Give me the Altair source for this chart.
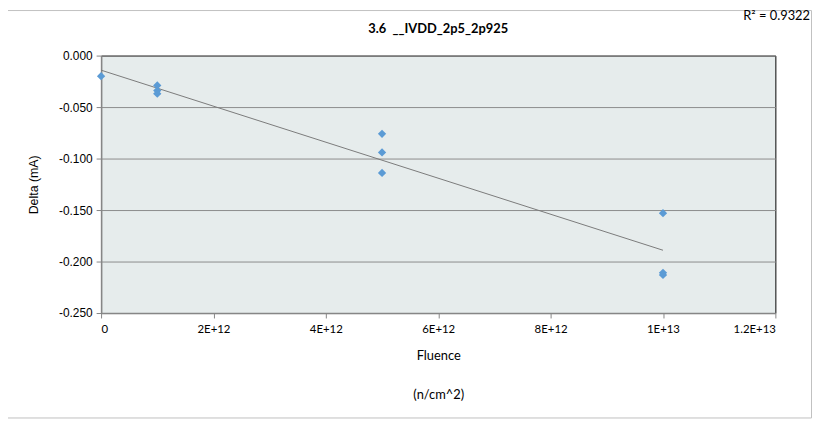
import altair as alt
import pandas as pd

fluence = [0, 1e12, 1e12, 1e12, 5e12, 5e12, 5e12, 1e13, 1e13, 1e13]
delta = [-0.020, -0.029, -0.034, -0.037, -0.076, -0.094, -0.114, -0.153, -0.211, -0.213]
x_ticks = [0, 2e12, 4e12, 6e12, 8e12, 1e13, 1.2e13]
y_ticks = [0, -0.05, -0.1, -0.15, -0.2, -0.25]
chart_title = "3.6\u00a0\u00a0__IVDD_2p5_2p925"
r2_label = "R\u00b2 = 0.9322"
x_title = ["Fluence", "(n/cm^2)"]
y_title = "Delta (mA)"

df = pd.DataFrame({"Fluence": fluence, "Delta": delta})

FONT = "Lato"
SANS = "Liberation Sans"
xs = alt.Scale(domain=[0, 1.2e13], nice=False, zero=False)
ys = alt.Scale(domain=[-0.25, 0], nice=False)

x_axis = alt.Axis(
    values=x_ticks,
    labelExpr="datum.value == 0 ? '0' : replace(format(datum.value, '.2~e'), 'e+', 'E+')",
    title=x_title,
    grid=False,
    domainColor="#868686",
    domainWidth=1.5,
    tickColor="#868686",
    tickSize=5,
    labelPadding=6,
    labelFont=FONT,
    labelFontSize=11.5,
    titleFont=FONT,
    titleFontSize=13,
    titlePadding=14,
    titleLineHeight=40,
)
y_axis = alt.Axis(
    values=y_ticks,
    labelExpr="replace(format(datum.value, '.3f'), '\u2212', '-')",
    title=y_title,
    grid=True,
    gridColor="#8c8c8c",
    gridWidth=1,
    domainColor="#868686",
    domainWidth=1.5,
    tickColor="#868686",
    tickSize=5,
    labelPadding=4,
    labelFont=SANS,
    labelFontSize=12,
    titleFont=SANS,
    titleFontSize=12.5,
    titlePadding=18,
)

base = alt.Chart(df)

trend = base.transform_regression("Fluence", "Delta").mark_line(
    color="#7a7a7a", strokeWidth=1
).encode(
    x=alt.X("Fluence:Q", scale=xs, axis=x_axis),
    y=alt.Y("Delta:Q", scale=ys, axis=y_axis),
)

points = base.mark_point(
    shape="diamond", filled=True, size=70, color="#5B9BD5", opacity=1
).encode(
    x=alt.X("Fluence:Q", scale=xs),
    y=alt.Y("Delta:Q", scale=ys),
)

r2 = alt.Chart(pd.DataFrame({"t": [r2_label]})).mark_text(
    align="right", baseline="middle", fontSize=13, font=FONT, color="#000"
).encode(x=alt.value(716), y=alt.value(-40), text="t:N")

title_mark = alt.Chart(pd.DataFrame({"t": [chart_title]})).mark_text(
    align="center", baseline="middle", fontSize=13, font=FONT, fontWeight="bold", color="#000"
).encode(x=alt.value(340.5), y=alt.value(-27), text="t:N")

border = alt.Chart(pd.DataFrame({"a": [1]})).mark_rect(
    fill="transparent", stroke="#c0c0c0", strokeWidth=1
).encode(x=alt.value(-94.5), x2=alt.value(717.5), y=alt.value(-45.5), y2=alt.value(366))

chart = alt.layer(border, trend, points, r2, title_mark).properties(
    width=681,
    height=260,
    autosize=alt.AutoSizeParams(type="none"),
    padding={"left": 94, "top": 46, "right": 38, "bottom": 108},
    background="white",
).configure_view(
    fill="#E6ECEC", stroke="#000", strokeWidth=1
).configure_axis(
    labelColor="#000", titleColor="#000", titleFontWeight="normal",
)

chart.save("out.html", embed_options={"renderer": "svg", "actions": False})
